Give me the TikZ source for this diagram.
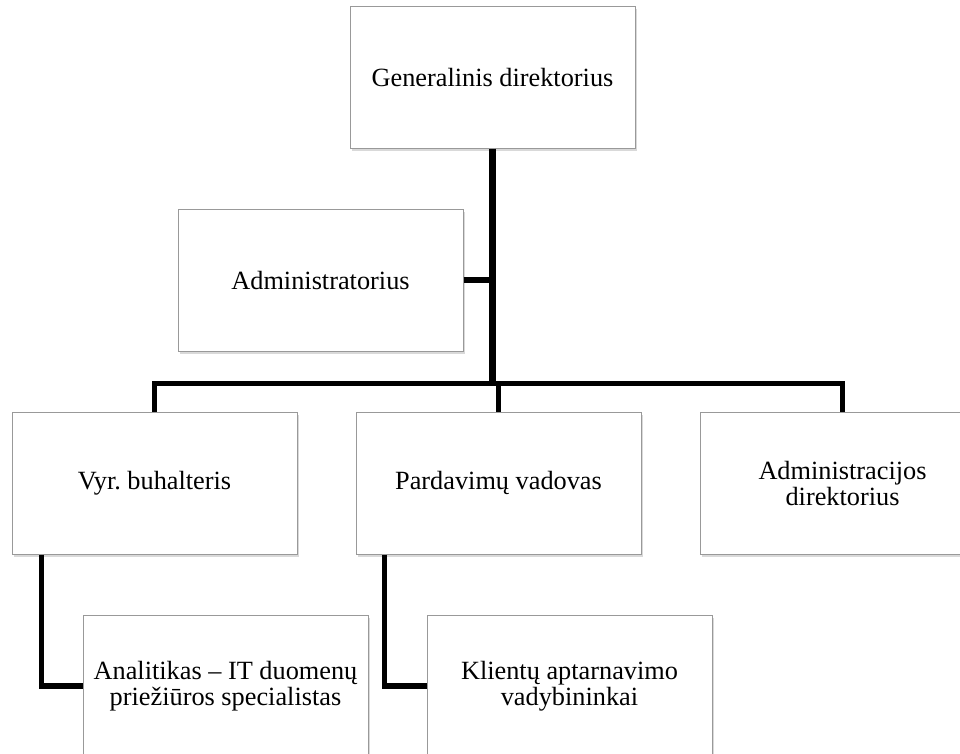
\documentclass[tikz,border=0pt]{standalone}
\usepackage{fontspec}
\setmainfont{Liberation Serif}
\frenchspacing
\usetikzlibrary{positioning,shadows}

\begin{document}
\begin{tikzpicture}[unitbox/.style={draw=black!40,line width=1pt,fill=white,minimum width=285pt,minimum height=142pt,align=center,inner sep=2pt,font={\fontsize{26.3}{26}\selectfont},drop shadow={shadow xshift=1.5pt,shadow yshift=-2.5pt,opacity=.3}},orgline/.style={line width=5.5pt},node distance=60pt and 58pt]
        \clip (0pt,0pt) rectangle (960pt,-753pt);
        \node[unitbox] (vyr) at (154.5pt,-483pt) {Vyr. buhalteris};
        \node[unitbox] (pard) [right=of vyr]              {Pardavimų vadovas};
        \node[unitbox] (admdir) [right=of pard]           {Administracijos\\direktorius};
        \node[unitbox] (anal) [below=of vyr, xshift=71pt] {Analitikas – IT duomenų\\priežiūros specialistas};
        \node[unitbox] (klient) [below=of pard, xshift=71pt] {Klientų aptarnavimo\\vadybininkai};
        \node[unitbox] (admin) [above=of vyr, xshift=166pt] {Administratorius};
        \node[unitbox] (gd) [above=of admin, xshift=172pt] {Generalinis direktorius};
        \coordinate (bar) at ([yshift=28pt]gd.south |- vyr.north);

        \draw[orgline, line width=7pt] (gd.south) -- (bar);
        \draw[orgline] (admin.east) -- (admin.east -| gd.south);
        \draw[orgline] (vyr.north) |- (bar) -| (admdir.north);
        \draw[orgline] (pard.north) |- (bar);
        \draw[orgline] ([xshift=30pt]vyr.south west) |- (anal.west);
        \draw[orgline] ([xshift=29pt]pard.south west) |- (klient.west);
    \end{tikzpicture}
\end{document}
